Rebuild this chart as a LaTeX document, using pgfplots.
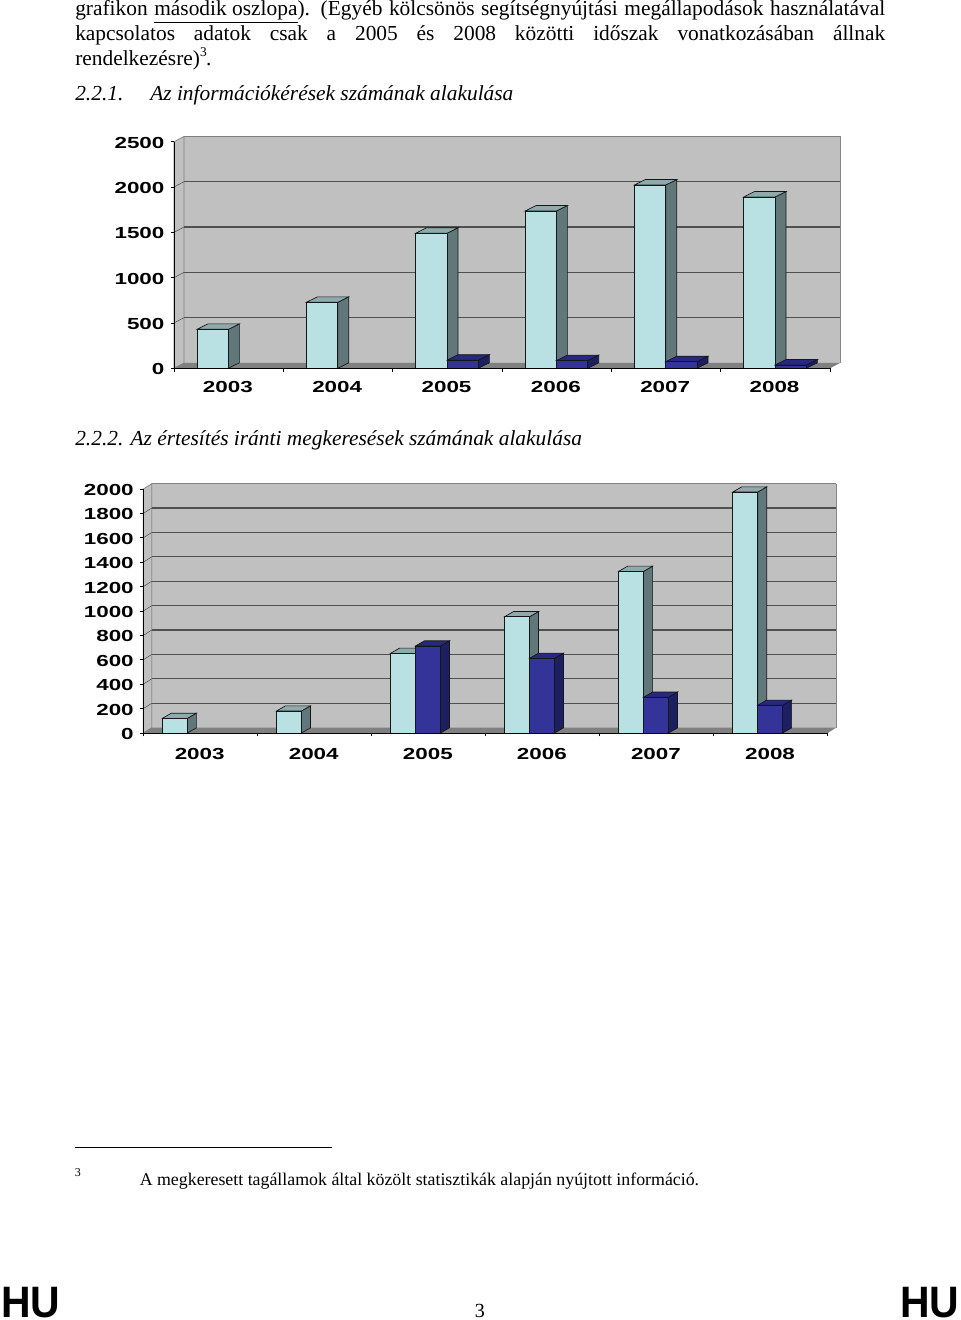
\documentclass[border=0pt]{standalone}
\usepackage{fontspec}
\usepackage{pgfplots}
\usepackage{pgfplotstable}
\pgfplotsset{compat=1.18}
\setmainfont{Liberation Serif}
\newfontfamily\chartfont{Liberation Sans}[FakeStretch=1.4]
\newfontfamily\hufont{Liberation Sans}[FakeStretch=0.93]
\definecolor{wallc}{HTML}{C0C0C0}
\definecolor{floorc}{HTML}{808080}
\definecolor{gridc}{HTML}{505050}
\definecolor{lightF}{HTML}{B9E0E3}
\definecolor{lightS}{HTML}{62777A}
\definecolor{lightT}{HTML}{8FA9AC}
\definecolor{darkF}{HTML}{333399}
\definecolor{darkS}{HTML}{1E1E62}
\definecolor{darkT}{HTML}{282880}
\definecolor{edgec}{HTML}{101818}
% name, centre offset, half width, depth x, depth y, pt per unit, side colour, top colour
\newcommand\defbox[8]{%
 \pgfdeclareplotmark{#1}{%
  \pgfmathsetmacro\hh{\rawv*#6}%
  \pgfmathsetmacro\xl{#2-#3}\pgfmathsetmacro\xr{#2+#3}%
  \pgfmathsetmacro\xrb{\xr+#4}\pgfmathsetmacro\xlb{\xl+#4}%
  \pgfmathsetmacro\yb{#5-\hh}\pgfmathsetmacro\hn{-\hh}%
  \pgfsetlinewidth{0.5pt}\pgfsetstrokecolor{edgec}%
  \pgfpathmoveto{\pgfqpoint{\xr pt}{0pt}}%
  \pgfpathlineto{\pgfqpoint{\xrb pt}{#5pt}}%
  \pgfpathlineto{\pgfqpoint{\xrb pt}{\yb pt}}%
  \pgfpathlineto{\pgfqpoint{\xr pt}{\hn pt}}%
  \pgfpathclose\pgfsetfillcolor{#7}\pgfusepath{fill,stroke}%
  \pgfpathmoveto{\pgfqpoint{\xl pt}{0pt}}%
  \pgfpathlineto{\pgfqpoint{\xlb pt}{#5pt}}%
  \pgfpathlineto{\pgfqpoint{\xrb pt}{#5pt}}%
  \pgfpathlineto{\pgfqpoint{\xr pt}{0pt}}%
  \pgfpathclose\pgfsetfillcolor{#8}\pgfusepath{fill,stroke}%
 }}
\defbox{aL}{-12}{11.75}{8.25}{4.1}{0.06798}{lightS}{lightT}
\defbox{aD}{11.5}{11.75}{8.25}{4.1}{0.06798}{darkS}{darkT}
\defbox{bL}{-19.1}{9.375}{6.75}{3.9}{0.0915}{lightS}{lightT}
\defbox{bD}{-0.4}{9.375}{6.75}{3.9}{0.0915}{darkS}{darkT}
\pgfplotstableread{
x v
0 430
1 728
2 1490
3 1735
4 2022
5 1890
}\infoL
\pgfplotstableread{
x v
2 90
3 85
4 73
5 36
}\infoD
\pgfplotstableread{
x v
0 120
1 180
2 653
3 953
4 1325
5 1975
}\notifL
\pgfplotstableread{
x v
2 713
3 612
4 293
5 227
}\notifD
\pgfplotsset{
 chart/.style={
  scale only axis, clip=false, clip mode=individual, axis on top,
  xmin=-0.5, xmax=5.5, ymin=0,
  axis x line=bottom, axis y line=left, axis line style={-,black,line width=0.6pt},
  xtick={0,1,2,3,4,5}, xticklabels={2003,2004,2005,2006,2007,2008},
  xtick style={draw=none},
  extra x ticks={-0.5,0.5,1.5,2.5,3.5,4.5,5.5}, extra x tick labels={},
  extra x tick style={xtick style={draw=black,line width=0.5pt}},
  ytick style={draw=black,line width=0.5pt},
  tick align=outside, major tick length=2.6pt,
  tick label style={font=\chartfont\fontsize{12pt}{13pt}\selectfont\bfseries,inner sep=0pt},
  /pgf/number format/assume math mode=true, /pgf/number format/1000 sep={},
 },
 frontbar/.style={ybar,draw=edgec,line width=0.5pt,forget plot},
 depth/.style={scatter,only marks,visualization depends on=rawy \as \rawv,forget plot},
}
\newcommand\txt[4][\bodyfont]{\node[anchor=base west,inner sep=0pt,font=#1] at (#2,#3) {#4};}
\newcommand\bodyfont{\fontsize{16.05pt}{18pt}\selectfont}
\newcommand\just[1]{\makebox[607.5pt][s]{#1}}
\begin{document}
\begin{tikzpicture}[x=0.75pt,y=-0.75pt]
\path[use as bounding box] (0,0) rectangle (960,1320);
\coordinate (A) at (174,368.3);
\coordinate (B) at (143.3,733);
\txt{75}{16}{\just{grafikon \underline{második oszlopa}). (Egyéb kölcsönös segítségnyújtási megállapodások használatával}}
\txt{75}{40.5}{\just{kapcsolatos adatok csak a 2005 és 2008 közötti időszak vonatkozásában állnak}}
\txt{75}{65}{rendelkezésre)\raisebox{0.42em}{\fontsize{10pt}{11pt}\selectfont 3}\kern-0.5pt.}
\txt{75}{100.5}{\itshape 2.2.1.}
\txt{150}{100.5}{\itshape Az információkérések számának alakulása}
\txt{75}{445}{\itshape 2.2.2. Az értesítés iránti megkeresések számának alakulása}

\begin{axis}[chart, at={(A)}, anchor=south west, width=492pt, height=169.95pt,
  ymax=2500, ytick={0,500,1000,1500,2000,2500},
  yticklabel style={xshift=-4.4pt,yshift=-0.7pt},
  xticklabel style={yshift=-7pt,xshift=-0.6pt}]
 \fill[wallc] ([shift={(7.5pt,3.98pt)}]axis cs:-0.5,0) rectangle ([shift={(7.5pt,3.98pt)}]axis cs:5.5,2500);
 \fill[wallc,draw=floorc,line width=0.5pt] (axis cs:-0.5,0) -- ([shift={(7.5pt,3.98pt)}]axis cs:-0.5,0) -- ([shift={(7.5pt,3.98pt)}]axis cs:-0.5,2500) -- (axis cs:-0.5,2500) -- cycle;
 \fill[floorc] (axis cs:-0.5,0) -- ([shift={(7.5pt,3.98pt)}]axis cs:-0.5,0) -- ([shift={(7.5pt,3.98pt)}]axis cs:5.5,0) -- (axis cs:5.5,0) -- cycle;
 \draw[floorc,line width=0.8pt] ([shift={(7.5pt,3.98pt)}]axis cs:-0.5,2500) -- ([shift={(7.5pt,3.98pt)}]axis cs:5.5,2500);
 \draw[wallc!70!black,line width=0.5pt] ([shift={(7.5pt,3.98pt)}]axis cs:5.5,0) -- ([shift={(7.5pt,3.98pt)}]axis cs:5.5,2500);
 \pgfplotsinvokeforeach{500,1000,1500,2000}{
  \draw[gridc,line width=0.9pt] ([shift={(7.5pt,3.98pt)}]axis cs:-0.5,#1) -- ([shift={(7.5pt,3.98pt)}]axis cs:5.5,#1);
  \draw[gridc,line width=0.4pt] (axis cs:-0.5,#1) -- ([shift={(7.5pt,3.98pt)}]axis cs:-0.5,#1);
 }
 \addplot[depth,mark=aL] table[x=x,y=v]{\infoL};
 \addplot[frontbar,fill=lightF,bar width=23.5pt,bar shift=-12pt] table[x=x,y=v]{\infoL};
 \addplot[depth,mark=aD] table[x=x,y=v]{\infoD};
 \addplot[frontbar,fill=darkF,bar width=23.5pt,bar shift=11.5pt] table[x=x,y=v]{\infoD};
\end{axis}

\begin{axis}[chart, at={(B)}, anchor=south west, width=513.3pt, height=183pt,
  ymax=2000, ytick={0,200,400,600,800,1000,1200,1400,1600,1800,2000},
  yticklabel style={xshift=-4.4pt,yshift=-0.7pt},
  xticklabel style={yshift=-9pt,xshift=-0.5pt}]
 \fill[wallc] ([shift={(6.3pt,4pt)}]axis cs:-0.5,0) rectangle ([shift={(6.3pt,4pt)}]axis cs:5.5,2000);
 \fill[wallc,draw=floorc,line width=0.5pt] (axis cs:-0.5,0) -- ([shift={(6.3pt,4pt)}]axis cs:-0.5,0) -- ([shift={(6.3pt,4pt)}]axis cs:-0.5,2000) -- (axis cs:-0.5,2000) -- cycle;
 \fill[floorc] (axis cs:-0.5,0) -- ([shift={(6.3pt,4pt)}]axis cs:-0.5,0) -- ([shift={(6.3pt,4pt)}]axis cs:5.5,0) -- (axis cs:5.5,0) -- cycle;
 \draw[floorc,line width=0.8pt] ([shift={(6.3pt,4pt)}]axis cs:-0.5,2000) -- ([shift={(6.3pt,4pt)}]axis cs:5.5,2000);
 \draw[wallc!70!black,line width=0.5pt] ([shift={(6.3pt,4pt)}]axis cs:5.5,0) -- ([shift={(6.3pt,4pt)}]axis cs:5.5,2000);
 \pgfplotsinvokeforeach{200,400,600,800,1000,1200,1400,1600,1800}{
  \draw[gridc,line width=0.9pt] ([shift={(6.3pt,4pt)}]axis cs:-0.5,#1) -- ([shift={(6.3pt,4pt)}]axis cs:5.5,#1);
  \draw[gridc,line width=0.4pt] (axis cs:-0.5,#1) -- ([shift={(6.3pt,4pt)}]axis cs:-0.5,#1);
 }
 \addplot[depth,mark=bL] table[x=x,y=v]{\notifL};
 \addplot[frontbar,fill=lightF,bar width=18.75pt,bar shift=-19.1pt] table[x=x,y=v]{\notifL};
 \addplot[depth,mark=bD] table[x=x,y=v]{\notifD};
 \addplot[frontbar,fill=darkF,bar width=18.75pt,bar shift=-0.4pt] table[x=x,y=v]{\notifD};
\end{axis}

\draw[black,line width=0.75pt] (75,1147.3) -- (332,1147.3);
\txt[\fontsize{9pt}{11pt}\selectfont]{74.5}{1176}{3}
\txt[\fontsize{13.38pt}{16pt}\selectfont]{139.5}{1185}{A megkeresett tagállamok által közölt statisztikák alapján nyújtott információ.}
\txt[\fontsize{15pt}{18pt}\selectfont]{474.5}{1317.5}{3}
\txt[\hufont\fontsize{33pt}{36pt}\selectfont\bfseries]{1}{1317}{HU}
\txt[\hufont\fontsize{33pt}{36pt}\selectfont\bfseries]{900}{1317}{HU}
\end{tikzpicture}
\end{document}
